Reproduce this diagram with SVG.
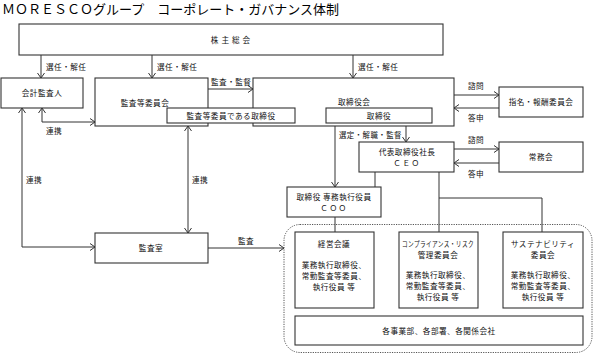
<svg xmlns="http://www.w3.org/2000/svg" width="594" height="354" viewBox="0 0 594 354">
<defs>
<marker id="arr" markerUnits="userSpaceOnUse" markerWidth="10" markerHeight="10" refX="6" refY="4" orient="auto-start-reverse">
<path d="M1,0.5 L6,4 L1,7.5" fill="none" stroke="#333" stroke-width="1"/>
</marker>
<style>
text{font-family:"Noto Sans CJK JP","Noto Sans CJK SC",sans-serif;fill:#111;font-size:7.6px;letter-spacing:0.5px;}
.t{text-anchor:middle;}
.title{font-size:13px;fill:#000;letter-spacing:0;}
.box{fill:#fff;stroke:#333;stroke-width:1.1;}
.ln{fill:none;stroke:#333;stroke-width:1;}
.a{marker-end:url(#arr);}
.b{marker-start:url(#arr);marker-end:url(#arr);}
.dot{fill:none;stroke:#555;stroke-width:1;stroke-dasharray:1.2 1.2;}
</style>
</defs>
<rect width="594" height="354" fill="#fff"/>
<text class="title" x="2" y="14">ＭＯＲＥＳＣＯグループ　コーポレート・ガバナンス体制</text>

<g id="connectors">
<path class="ln a" d="M41,55 L41,78"/>
<path class="ln a" d="M152,55 L152,78"/>
<path class="ln a" d="M353,55 L353,78"/>
<path class="ln a" d="M208,89 L253,89"/>
<path class="ln b" d="M42,108 L42,122 L95,122"/>
<path class="ln b" d="M22,108 L22,247 L95,247"/>
<path class="ln b" d="M188,126 L188,233"/>
<path class="ln a" d="M208,248 L284,248"/>
<path class="ln a" d="M454,95 L499,95"/>
<path class="ln a" d="M499,108 L454,108"/>
<path class="ln a" d="M454,149 L499,149"/>
<path class="ln a" d="M499,163 L454,163"/>
<path class="ln a" d="M335,126 L335,187"/>
<path class="ln a" d="M406,126 L406,142"/>
<path class="ln" d="M375,172 L375,187"/>
<path class="ln" d="M439,172 L439,232"/>
<path class="ln" d="M439,198 L542,198 L542,232"/>
<path class="ln" d="M335,217 L335,232"/>
<rect class="dot" x="284" y="224.5" width="308" height="128" rx="16"/>
<text x="46" y="70">選任・解任</text>
<text x="157" y="70">選任・解任</text>
<text x="358" y="70">選任・解任</text>
<text x="211" y="85">監査・監督</text>
<text x="46" y="134">連携</text>
<text x="26" y="183">連携</text>
<text x="192" y="183">連携</text>
<text x="238" y="244">監査</text>
<text x="468" y="89">諮問</text>
<text x="468" y="121">答申</text>
<text x="468" y="143">諮問</text>
<text x="468" y="177">答申</text>
<text x="339" y="138" textLength="63" lengthAdjust="spacingAndGlyphs">選定・解職・監督</text>
</g>

<g id="shareholders">
<rect class="box" x="19" y="24" width="424" height="31"/>
<text class="t" x="232" y="43" style="letter-spacing:3px">株主総会</text>
</g>
<g id="auditor">
<rect class="box" x="1" y="78" width="82" height="30"/>
<text class="t" x="42" y="96">会計監査人</text>
</g>
<g id="audit-committee">
<rect class="box" x="95" y="78" width="113" height="48"/>
<text class="t" x="145" y="106">監査等委員会</text>
</g>
<g id="board">
<rect class="box" x="253" y="78" width="201" height="48"/>
<text x="338" y="105">取締役会</text>
</g>
<g id="audit-director">
<rect class="box" x="167" y="108" width="128" height="15"/>
<text class="t" x="231" y="119">監査等委員である取締役</text>
</g>
<g id="director">
<rect class="box" x="326" y="108" width="106" height="15"/>
<text class="t" x="379" y="119">取締役</text>
</g>
<g id="nomination">
<rect class="box" x="499" y="87" width="84" height="30"/>
<text class="t" x="541" y="105">指名・報酬委員会</text>
</g>
<g id="ceo">
<rect class="box" x="359" y="142" width="95" height="30"/>
<text class="t" x="407" y="155">代表取締役社長</text>
<text class="t" x="407" y="166" style="letter-spacing:1.5px">ＣＥＯ</text>
</g>
<g id="executive-committee">
<rect class="box" x="499" y="142" width="84" height="30"/>
<text class="t" x="541" y="160">常務会</text>
</g>
<g id="coo">
<rect class="box" x="287" y="187" width="94" height="30"/>
<text class="t" x="334" y="200">取締役 専務執行役員</text>
<text class="t" x="334" y="211" style="letter-spacing:1.5px">ＣＯＯ</text>
</g>
<g id="audit-office">
<rect class="box" x="95" y="233" width="113" height="30"/>
<text class="t" x="151" y="251">監査室</text>
</g>
<g id="management-meeting">
<rect class="box" x="295" y="232" width="79" height="76"/>
<text class="t" x="334" y="247">経営会議</text>
<text class="t" x="334" y="268">業務執行取締役、</text>
<text class="t" x="334" y="279">常勤監査等委員、</text>
<text class="t" x="334" y="290">執行役員 等</text>
</g>
<g id="compliance">
<rect class="box" x="399" y="232" width="79" height="76"/>
<text class="t" x="438" y="247" textLength="72" lengthAdjust="spacingAndGlyphs">コンプライアンス・リスク</text>
<text class="t" x="438" y="258">管理委員会</text>
<text class="t" x="438" y="278">業務執行取締役、</text>
<text class="t" x="438" y="289">常勤監査等委員、</text>
<text class="t" x="438" y="300">執行役員 等</text>
</g>
<g id="sustainability">
<rect class="box" x="503" y="232" width="80" height="76"/>
<text class="t" x="543" y="247">サステナビリティ</text>
<text class="t" x="543" y="258">委員会</text>
<text class="t" x="543" y="278">業務執行取締役、</text>
<text class="t" x="543" y="289">常勤監査等委員、</text>
<text class="t" x="543" y="300">執行役員 等</text>
</g>
<g id="divisions">
<rect class="box" x="295" y="316" width="288" height="29"/>
<text class="t" x="439" y="334">各事業部、各部署、各関係会社</text>
</g>
</svg>
